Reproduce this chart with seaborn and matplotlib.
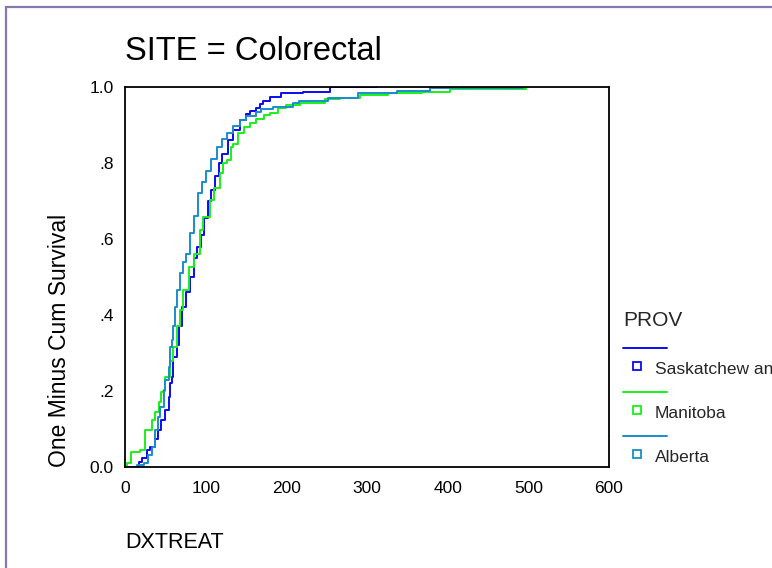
#One Minus Cum Survival by province - Colorectal
import pandas as pd
import matplotlib.pyplot as plt
import seaborn as sns
from matplotlib.lines import Line2D
from matplotlib.patches import Rectangle

provinces = ["Saskatchew an", "Manitoba", "Alberta"]
colors = ["#0a0af0", "#19f019", "#1a8ccc"]

sask_t = [0, 17, 21, 27, 31, 37, 41, 45, 50, 54, 56, 58, 60, 64, 67, 71, 75, 80, 85, 89,
          94, 98, 103, 107, 112, 116, 120, 128, 134, 143, 150, 155, 162, 167, 171, 180,
          194, 221, 254, 312]
sask_f = [0, 0.014, 0.023, 0.045, 0.053, 0.075, 0.097, 0.124, 0.15, 0.185, 0.22, 0.238,
          0.29, 0.32, 0.37, 0.42, 0.46, 0.50, 0.55, 0.58, 0.61, 0.655, 0.70, 0.73, 0.765,
          0.80, 0.825, 0.86, 0.887, 0.913, 0.93, 0.937, 0.944, 0.955, 0.962, 0.974, 0.983,
          0.986, 1.0, 1.0]

man_t = [0, 2, 8, 19, 25, 33, 37, 42, 45, 47, 50, 56, 60, 64, 68, 72, 79, 86, 93, 97, 105,
         110, 118, 122, 126, 131, 134, 140, 147, 155, 163, 172, 180, 190, 200, 217, 248,
         266, 291, 326, 368, 403, 497]
man_f = [0, 0.01, 0.04, 0.045, 0.097, 0.124, 0.146, 0.17, 0.198, 0.2, 0.238, 0.28, 0.317,
         0.37, 0.413, 0.467, 0.527, 0.56, 0.624, 0.657, 0.703, 0.733, 0.773, 0.80, 0.808,
         0.843, 0.85, 0.878, 0.895, 0.905, 0.915, 0.926, 0.932, 0.944, 0.953, 0.958, 0.968,
         0.97, 0.979, 0.983, 0.988, 0.995, 1.0]

alb_t = [0, 15, 23, 29, 33, 37, 41, 43, 48, 50, 54, 56, 58, 59, 62, 65, 68, 72, 75, 81,
         86, 91, 96, 101, 107, 114, 120, 126, 134, 143, 150, 163, 168, 184, 208, 216, 252,
         289, 337, 378, 494]
alb_f = [0, 0.005, 0.01, 0.032, 0.053, 0.097, 0.132, 0.159, 0.203, 0.229, 0.264, 0.317,
         0.334, 0.37, 0.42, 0.467, 0.51, 0.54, 0.56, 0.616, 0.66, 0.72, 0.75, 0.78, 0.81,
         0.843, 0.862, 0.878, 0.897, 0.913, 0.924, 0.935, 0.943, 0.947, 0.958, 0.962, 0.97,
         0.983, 0.99, 0.997, 1.0]

df = pd.concat([
    pd.DataFrame({"DXTREAT": sask_t, "cum": sask_f, "PROV": provinces[0]}),
    pd.DataFrame({"DXTREAT": man_t, "cum": man_f, "PROV": provinces[1]}),
    pd.DataFrame({"DXTREAT": alb_t, "cum": alb_f, "PROV": provinces[2]}),
])

sns.set_theme(style="white")
plt.rcParams["font.family"] = ["Liberation Sans", "DejaVu Sans"]

W, H = 772, 568
fig = plt.figure(figsize=(7.72, 5.68), dpi=100)
ax = fig.add_axes([125 / W, (H - 467) / H, (609 - 125) / W, (467 - 87) / H])

sns.lineplot(data=df, x="DXTREAT", y="cum", hue="PROV", palette=colors,
             hue_order=provinces, estimator=None, sort=False,
             drawstyle="steps-post", linewidth=1.4, legend=False, ax=ax)

ax.set_xlim(0, 600)
ax.set_ylim(0, 1.0)
ax.set_xticks([0, 100, 200, 300, 400, 500, 600])
ax.set_yticks([0, 0.2, 0.4, 0.6, 0.8, 1.0])
ax.set_yticklabels(["0.0", ".2", ".4", ".6", ".8", "1.0"])
ax.tick_params(direction="out", length=3, width=3, color="black",
               labelsize=12.5, labelcolor="black", pad=5)
ax.tick_params(axis="x", pad=7)
for s in ax.spines.values():
    s.set_color("black")
    s.set_linewidth(1.3)
ax.set_xlabel("")
ax.set_ylabel("")

fig.text(125 / W, (H - 60) / H, "SITE = Colorectal", fontsize=23.5, ha="left",
         va="baseline", color="black")
fig.text(125 / W, (H - 542) / H, "DXTREAT", fontsize=15.5, ha="left",
         va="center", color="black")
fig.text(60 / W, (H - 467) / H, "One Minus Cum Survival", fontsize=16.5,
         rotation=90, ha="center", va="bottom", color="black")

# legend in the SPSS style: line, then square marker with label
fig.text(623 / W, (H - 321) / H, "PROV", fontsize=15, ha="left", va="center")
for i, (name, c) in enumerate(zip(provinces, colors)):
    yl = H - (348 + 44 * i)
    ym = H - (366 + 44 * i)
    fig.add_artist(Line2D([623 / W, 667 / W], [yl / H, yl / H], color=c, linewidth=1.4))
    fig.add_artist(Line2D([637 / W], [ym / H], marker="s", markersize=5.5,
                          markerfacecolor="white", markeredgecolor=c,
                          markeredgewidth=1.3, linestyle="none"))
    fig.text(655 / W, (ym - 4) / H, name, fontsize=12.5, ha="left", va="center")

# purple page frame
fig.add_artist(Rectangle((6 / W, -0.1), 1.2, (H - 7) / H + 0.1, fill=False,
                         edgecolor="#8878b0", linewidth=1.6, transform=fig.transFigure))

fig.savefig("out.png", dpi=100)
